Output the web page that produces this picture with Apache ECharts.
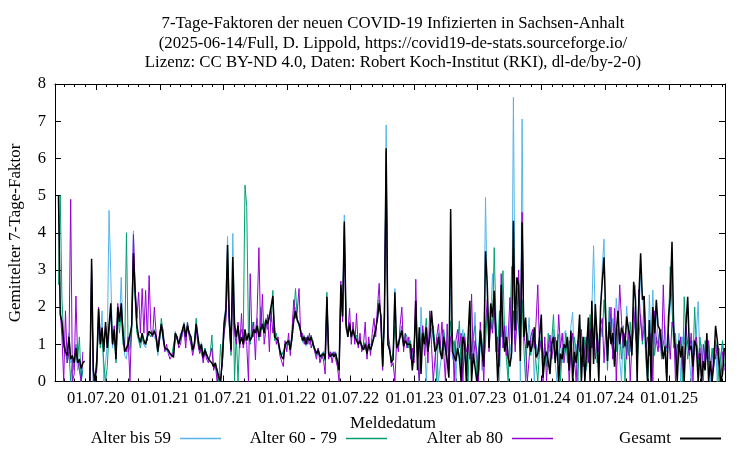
<!DOCTYPE html>
<html>
<head>
<meta charset="utf-8">
<script src="https://cdn.jsdelivr.net/npm/echarts@6/dist/echarts.min.js"></script>
<style>html,body{margin:0;padding:0;background:#fff}#c{width:750px;height:450px}</style>
</head>
<body>
<div id="c"></div>
<script>
// sampling grid of the reading: one value every 5 days from 2020-03-06
const startDate = Date.UTC(2020, 2, 6);
const stepDays = 5;
const axisStart = Date.UTC(2020, 2, 6);
const axisEnd = Date.UTC(2025, 5, 10);

const seriesNames = ['Alter bis 59', 'Alter 60 - 79', 'Alter ab 80', 'Gesamt'];

const gesamt = [
null,null,5.0,1.8,1.6,1.0,0.8,0.7,1.2,0.6,
0.7,0.5,0.9,0.5,0.6,0.35,0.5,0.55,null,null,
0,3.3,0.3,0,0.6,1.95,1.0,1.45,0.8,1.6,
0.9,1.5,2.1,1.0,1.4,0.6,2.0,1.6,2.1,1.3,
0.8,0.75,1.0,1.0,1.5,3.45,2.4,1.5,1.2,1.05,
1.3,1.1,1.0,1.2,1.35,1.3,1.25,1.35,1.2,0.8,
1.2,1.55,1.2,0.9,0.9,0.85,0.75,0.7,0.65,1.3,
1.2,1.0,1.2,1.25,1.55,1.2,1.5,1.3,1.2,0.85,
1.0,1.55,1.2,0.85,1.0,0.65,0.85,0.8,0.6,0.6,
0.5,0.4,0.5,0.3,0.1,0,0.6,1.55,1.9,3.67,
1.7,0.85,3.35,1.55,1.2,1.5,1.0,1.2,1.0,1.4,
1.1,1.3,1.1,1.2,1.4,1.3,1.5,1.2,1.4,1.55,
1.3,1.65,1.55,1.75,1.7,2.3,1.2,1.2,1.1,0.85,
0.67,0.6,1.0,0.95,1.1,0.85,1.2,1.65,1.9,1.65,
1.55,1.35,1.1,1.2,1.0,1.2,1.1,1.2,1.0,0.95,
0.75,0.85,0.67,0.67,0.75,0.6,2.28,0.75,0.67,0.75,
0.67,0.75,0.55,0.3,2.6,1.75,4.3,1.55,1.2,1.55,
1.2,1.4,1.2,1.2,1.0,1.1,0.95,0.85,1.0,0.75,
1.0,0.85,1.0,1.2,1.4,1.7,2.1,1.75,0.4,1.75,
6.27,1.0,0.85,0.5,0.6,2.4,0.9,1.0,1.2,1.37,
0.95,1.1,1.0,0.95,1.0,0.3,0.8,2.17,0.3,1.46,
0.2,1.3,1.0,1.46,0.8,1.2,1.9,1.3,0.8,0.9,
1.2,0.8,0.6,1.2,0.9,0.55,0.1,4.64,0.8,0.8,
0.55,0.9,0.65,0,1.2,1.0,0,1.2,2.17,0,
0.75,0.8,0,0.3,1.37,0.8,0.4,3.5,2.6,0.9,
2.1,1.73,2.44,1.2,0,0.9,2.6,1.37,0.8,1.2,
0.65,0.4,0.8,4.32,1.37,2.8,2.6,0.55,4.28,1.2,
1.72,0.9,1.1,0.8,1.0,1.46,0.65,0.75,1.2,1.8,
0.1,0.65,0.8,0.55,0.2,1.0,1.2,0.5,1.1,0,
0.75,0.6,1.0,0.9,1.2,0.3,1.37,0,0.8,0.5,
1.0,1.8,0,1.2,0,0,1.72,0,2.17,0.47,
2.08,1.2,0,2.0,2.7,3.34,1.72,0.55,1.6,1.0,
1.3,0.4,1.3,1.9,1.0,1.45,1.3,0.95,1.75,1.4,
1.2,0.7,2.68,2.2,0,2.28,3.45,2.2,2.3,1.0,
0,1.65,0,2.0,1.3,2.2,1.5,1.4,1.0,0.6,
0.95,0,1.75,2.28,3.76,1.3,0.85,0,1.1,0.65,
0.95,0,1.5,2.28,0.85,0.95,0.4,1.1,0.95,0,
0.75,0,0.55,0.3,1.3,0,0.55,0,0.5,1.5,
1.1,0.55,0,0.2,0.9
];

const bis59 = [
null,null,4.6,2.2,1.4,0.9,0.7,0.6,1.3,0.5,
0.6,0.4,0.8,0.3,0.5,0,0.4,null,null,null,
0,3.0,0.2,0,0.5,1.8,1.1,1.9,0,0,
1.0,4.6,2.9,0.9,1.3,0.6,1.9,1.5,2.8,1.2,
0.7,0.6,1.1,0.9,1.6,4.05,2.3,1.4,1.1,1.0,
1.2,1.0,0.9,1.3,1.3,1.2,1.3,1.3,1.1,0.7,
1.1,1.5,1.1,0.85,0.9,0.8,0.7,0.75,0.7,1.35,
1.15,1.05,1.3,1.2,1.6,1.25,1.45,1.35,1.15,0.9,
1.05,1.5,1.25,0.8,1.05,0.7,0.9,0.75,0.65,0.55,
0.5,0.45,0.4,0.35,0.1,0,0.7,1.7,2.0,3.9,
1.8,0.9,3.98,1.6,1.15,1.55,1.05,1.15,1.05,1.35,
1.1,1.25,1.15,1.2,1.35,1.3,1.45,1.2,1.35,1.5,
1.3,1.6,1.5,1.7,1.65,2.2,1.2,1.15,1.1,0.85,
0.7,0.65,0.95,1.0,1.05,0.9,1.3,1.75,2.0,1.6,
1.5,1.4,1.05,1.25,0.95,1.25,1.05,1.15,1.05,0.9,
0.8,0.8,0.7,0.65,0.8,0.6,2.2,0.8,0.65,0.8,
0.7,0.7,0.6,0.35,2.5,1.8,4.48,1.6,1.25,1.5,
1.25,1.35,1.25,1.15,1.05,1.05,1.0,0.9,0.95,0.8,
0.95,0.9,1.05,1.15,1.45,1.65,2.0,1.8,0.5,1.8,
6.9,1.1,0.9,0.55,0.7,2.5,1.0,0.9,1.3,1.2,
1.0,1.2,0.9,1.1,0.9,0.5,0.9,1.9,0.6,0,
2.0,1.0,1.2,0,1.0,1.3,1.6,1.1,0.9,1.0,
0,0,0.8,1.3,0.7,1.1,0.4,3.0,0.6,1.0,
0,1.1,0.5,0.8,1.4,0.6,0.4,1.0,1.9,0.3,
1.0,1.86,0.5,0.7,1.2,0.3,0.8,4.95,2.3,1.2,
1.7,2.9,2.0,1.5,0.6,0,1.6,1.3,0.9,1.5,
0.3,1.0,0.6,7.64,1.6,2.3,2.7,0,7.06,1.1,
1.5,1.0,1.72,0.8,1.3,0,1.0,0.6,1.23,1.4,
0.4,0.9,0.6,1.1,0.3,0.9,1.4,0.5,0,0.8,
1.0,0.5,1.3,1.37,0.9,0.5,1.5,1.86,0.4,1.0,
0.7,1.6,0,1.1,0.6,0.3,1.2,0.8,1.9,3.65,
1.6,0.9,0.5,1.8,3.1,3.83,1.4,0.8,1.9,1.2,
1.7,1.0,2.24,1.6,0.6,0,1.2,0.9,2.03,1.2,
0.8,1.4,2.2,2.6,0.7,1.9,2.82,2.4,1.7,0.5,
0,2.33,1.1,2.46,1.0,1.9,1.2,0.9,1.4,1.0,
1.5,0.8,1.4,2.0,3.0,1.6,0.9,0.5,1.3,0,
1.2,1.0,1.8,2.0,0.6,0,1.1,0.7,1.3,2.15,
0.5,1.0,0.3,0.9,1.1,0.6,0,0.8,0.4,1.0,
0,0.9,0.6,1.0,0.7
];

const alter6079 = [
null,null,2.6,5.0,2.2,1.2,0.9,0.5,0.8,0,
0.6,0.3,1.0,0.6,1.2,0,0.3,null,null,null,
0,2.9,0,0,0.4,1.6,0.9,1.2,0.5,0,
0.4,1.3,1.8,1.1,1.2,0.5,1.8,1.3,1.9,1.0,
0.9,4.0,0.8,0.9,1.3,3.2,2.2,1.3,1.1,0.9,
1.2,1.0,1.1,1.2,1.3,1.2,1.2,1.4,1.2,0.8,
1.1,1.7,1.3,0.9,0.85,0.8,0.8,0.7,0.7,1.25,
1.3,1.0,1.15,1.35,1.5,1.1,1.6,1.25,1.3,0.8,
1.1,1.7,1.1,0.9,0.95,0.6,0.9,0.7,0.6,0.7,
1.25,0.35,0.5,0.2,0,1.0,0.4,1.4,1.7,3.2,
1.5,0.7,2.9,0,1.3,0,1.2,1.4,1.1,5.28,
4.7,1.2,1.0,1.6,1.2,1.4,1.7,1.1,2.0,1.4,
1.5,1.7,1.4,1.8,1.6,2.45,1.1,1.3,1.0,0.8,
0.7,0.7,0.9,1.05,1.0,0.95,1.1,1.8,2.5,1.7,
1.5,1.3,1.2,1.1,1.05,1.2,1.0,1.25,0.95,1.0,
0.7,0.9,0.7,0.6,0.8,0.55,2.4,0.7,0.7,0.7,
0.7,0.8,0.5,0.3,2.5,1.7,4.2,1.5,1.2,1.6,
1.15,1.45,1.15,1.25,0.95,1.15,0.9,0.85,1.05,0.7,
1.05,0.8,1.0,1.25,1.35,1.75,2.2,1.7,0.45,1.7,
6.2,1.0,0.8,0.6,0.8,1.5,0.9,1.1,1.2,1.5,
1.0,1.3,1.2,0.9,1.1,0.6,1.0,1.6,0.7,1.3,
0.6,1.4,1.1,1.7,0.9,1.2,1.4,1.5,1.0,0,
1.3,1.0,0.7,1.4,1.0,0.6,0.5,1.63,0.9,1.1,
0.6,1.0,1.63,0.3,1.1,1.3,0.6,0,1.4,0.8,
1.2,1.5,0,0.9,1.4,1.1,0.5,1.0,2.0,1.4,
1.8,1.4,3.6,1.6,0.8,1.9,1.2,2.98,1.2,0.6,
0,1.4,3.09,2.8,1.0,1.9,1.4,0.8,2.2,0.9,
0,1.3,1.0,0.7,1.2,1.1,0.5,0,0.9,1.2,
0.6,1.0,0.4,1.3,0.8,1.1,1.8,0.6,1.0,1.27,
0,0.9,0.7,1.3,0.5,1.1,0.9,0.3,1.2,0.8,
0,1.4,0.9,0.6,1.2,0.4,1.0,1.8,0.9,1.3,
1.8,0.5,1.1,1.6,1.2,2.2,1.5,0.3,2.0,1.1,
0.8,1.6,0.8,1.4,1.2,0.6,1.5,0,1.1,0.7,
1.6,0.9,1.4,1.9,0.5,1.2,1.8,1.0,1.5,0.8,
0,1.3,0.9,1.6,0.7,1.2,1.0,1.4,0.6,1.1,
0.8,0,1.6,3.09,2.0,0.9,1.3,0.4,0.8,1.2,
0,2.28,1.2,0.6,1.1,1.0,0.5,2.0,0.9,0.4,
1.2,0.7,0,1.1,0.6,1.0,0.3,0.9,0.5,1.1,
0.8,0,0.7,1.1,0.4
];

const ab80 = [
null,null,null,1.9,1.2,0,1.9,0.5,0.8,4.9,
0,0.2,2.3,0.6,0.3,0,0.8,null,null,null,
0,3.1,0,0,0.3,2.0,1.2,1.3,1.0,1.5,
0.9,1.5,1.9,1.0,1.5,0.7,2.1,1.7,2.0,1.4,
0.9,0.8,1.2,0,1.6,3.95,2.5,1.7,2.4,1.3,
2.5,1.3,2.45,1.1,2.85,1.4,1.2,2.0,1.3,0.9,
1.3,1.5,1.4,0.8,1.0,0.75,0.6,0.55,0.8,1.1,
1.2,0.9,1.0,1.3,1.4,0.9,1.6,1.2,1.0,0.7,
0.95,1.4,1.0,0.75,0.9,0.5,0.8,0.6,0.5,0.5,
0.9,0.3,0.45,0,0.2,0,0.5,1.3,1.6,2.8,
1.5,0.8,2.6,1.3,1.0,1.6,0.9,1.83,0.9,1.2,
1.0,0,2.9,1.2,1.6,0.58,1.9,3.6,1.2,2.35,
1.0,1.4,1.8,0.8,1.9,1.3,1.5,1.0,1.2,0.7,
0.55,0.4,1.1,0.8,1.3,0.7,1.4,2.2,1.7,1.9,
2.5,1.2,1.3,1.0,1.2,1.0,1.3,0.9,1.1,0.8,
0.6,0.9,0.5,0.7,0.6,0.2,2.2,0.6,0.8,0.5,
0.8,0.6,0.4,0,2.7,1.6,3.9,1.4,1.3,1.97,
1.0,1.6,1.0,1.83,0.9,1.3,0.8,1.0,1.6,0.6,
1.2,0.7,1.3,1.7,1.2,2.0,2.64,1.5,0.3,2.0,
5.8,1.3,1.0,0.4,0.5,0,1.1,0.8,1.5,2.0,
0.8,1.3,0.9,1.2,0.6,0.9,0.5,2.75,0.6,0,
1.0,1.5,0.7,1.2,0.5,1.9,1.0,0,0,1.2,
1.55,0.9,1.6,0.8,0,1.55,0.3,1.2,1.3,0,
1.1,1.4,0.9,1.3,0,1.2,0.8,1.0,0.6,2.35,
0.5,1.1,0.8,0,1.6,0.9,0,1.5,2.2,0.8,
1.6,1.3,2.0,0.8,1.2,0.4,2.9,0.9,1.5,0.7,
1.2,2.26,1.0,1.9,0.8,1.6,3.0,1.1,4.55,1.3,
0.9,0,0,1.2,1.4,0.9,1.6,2.6,0.8,1.1,
0,1.2,0,0.9,1.25,0.6,1.0,1.2,0.7,1.8,
0.9,1.3,0.5,0.9,1.1,0,0.8,1.3,0.6,0,
1.1,0.8,1.4,0.4,0.9,1.2,0.5,1.4,0.9,1.2,
0.6,1.3,0.8,1.5,1.7,0.5,1.4,1.0,1.2,2.0,
0.6,1.97,0,1.2,2.6,1.65,0.9,1.3,0.6,1.5,
0,1.0,2.0,1.3,0.8,2.48,1.6,1.1,2.28,0.9,
1.2,0.7,1.3,0,1.9,1.1,0.8,1.4,0.7,2.6,
1.0,0.9,1.3,0.6,1.6,1.4,0,1.0,0.8,1.2,
0.5,0,1.5,1.0,0.7,1.3,0,1.1,1.2,0.6,
0.9,0,1.0,0.5,0.8,1.1,0.4,0,0.9,0.6,
1.0,0.5,0,0.8,0.3
];

// tick dates
const majorTickLabels = ['01.07.20','01.01.21','01.07.21','01.01.22','01.07.22','01.01.23','01.07.23','01.01.24','01.07.24','01.01.25'];

function parseLabel(s) {
  const p = s.split('.');
  return Date.UTC(2000 + parseInt(p[2], 10), parseInt(p[1], 10) - 1, parseInt(p[0], 10));
}
const majorTicks = majorTickLabels.map(parseLabel);
const minorTicks = [];
for (let y = 2020; y <= 2025; y++) {
  for (let m = 0; m < 12; m++) {
    const t = Date.UTC(y, m, 1);
    if (t > axisStart && t < axisEnd) minorTicks.push(t);
  }
}
function fmt(v) {
  const d = new Date(v);
  const dd = String(d.getUTCDate()).padStart(2, '0');
  const mm = String(d.getUTCMonth() + 1).padStart(2, '0');
  const yy = String(d.getUTCFullYear() % 100).padStart(2, '0');
  return dd + '.' + mm + '.' + yy;
}

const dayMs = 86400000;
function toPairs(arr) {
  return arr.map((v, i) => [startDate + i * stepDays * dayMs, v]);
}

const FONT = '"Liberation Serif", "DejaVu Serif", serif';
const colors = ['#56b4e9', '#009e73', '#9400d3', '#000000'];

function xAxisDef(pos, ticks, len, showLine, showLabel) {
  return {
    type: 'value', min: axisStart, max: axisEnd, position: pos,
    axisLine: { show: showLine, lineStyle: { color: '#000', width: 1 } },
    axisTick: { show: true, inside: true, length: len, customValues: ticks, lineStyle: { color: '#000', width: 1 } },
    axisLabel: showLabel ? { show: true, customValues: ticks, formatter: fmt, margin: 9, fontFamily: FONT, fontSize: 16.5, color: '#000' } : { show: false },
    splitLine: { show: false }
  };
}

const chart = echarts.init(document.getElementById('c'), null, { renderer: 'canvas' });

const legendRights = [529, 363, 197, 29];
const legends = seriesNames.map((n, k) => ({
  data: [n], right: legendRights[k], top: 430, padding: 0, align: 'right',
  icon: 'rect', itemWidth: 41, itemHeight: k === 3 ? 2 : 1.5,
  textStyle: { fontFamily: FONT, fontSize: 17, color: '#000', padding: [0, 4, 0, 0] },
  selectedMode: false
}));

const dataSets = [bis59, alter6079, ab80, gesamt];

chart.setOption({
  animation: false,
  backgroundColor: '#fff',
  grid: { left: 55, top: 84, right: 25, bottom: 68.5 },
  legend: legends,
  xAxis: [
    xAxisDef('bottom', majorTicks, 6, true, true),
    xAxisDef('bottom', minorTicks, 3, false, false),
    xAxisDef('top', majorTicks, 6, true, false),
    xAxisDef('top', minorTicks, 3, false, false)
  ],
  yAxis: [
    {
      type: 'value', min: 0, max: 8, interval: 1, position: 'left',
      axisLine: { show: true, lineStyle: { color: '#000', width: 1 } },
      axisTick: { show: true, inside: true, length: 6, lineStyle: { color: '#000' } },
      axisLabel: { margin: 9, fontFamily: FONT, fontSize: 16.5, color: '#000' },
      splitLine: { show: false }
    },
    {
      type: 'value', min: 0, max: 8, interval: 1, position: 'right',
      axisLine: { show: true, lineStyle: { color: '#000', width: 1 } },
      axisTick: { show: true, inside: true, length: 6, lineStyle: { color: '#000' } },
      axisLabel: { show: false },
      splitLine: { show: false }
    }
  ],
  graphic: [
    {
      type: 'text', x: 393, y: 14,
      style: {
        text: '7-Tage-Faktoren der neuen COVID-19 Infizierten in Sachsen-Anhalt\n(2025-06-14/Full, D. Lippold, https://covid19-de-stats.sourceforge.io/\nLizenz: CC BY-ND 4.0, Daten: Robert Koch-Institut (RKI), dl-de/by-2-0)',
        font: '16.8px ' + FONT, fill: '#000', align: 'center', verticalAlign: 'top', lineHeight: 19.5
      }
    },
    {
      type: 'text', x: 393, y: 424,
      style: { text: 'Meldedatum', font: '17px ' + FONT, fill: '#000', align: 'center', verticalAlign: 'middle' }
    },
    {
      type: 'text', x: 16, y: 233, rotation: Math.PI / 2,
      style: { text: 'Gemittelter 7-Tage-Faktor', font: '17px ' + FONT, fill: '#000', align: 'center', verticalAlign: 'middle' }
    }
  ],
  series: dataSets.map((arr, k) => ({
    name: seriesNames[k], type: 'line', xAxisIndex: 0, yAxisIndex: 0,
    data: toPairs(arr), showSymbol: false, symbol: 'none', connectNulls: false,
    silent: true,
    lineStyle: { color: colors[k], width: k === 3 ? 1.5 : 1 },
    itemStyle: { color: colors[k] },
    z: 2 + k
  }))
});
</script>
</body>
</html>
